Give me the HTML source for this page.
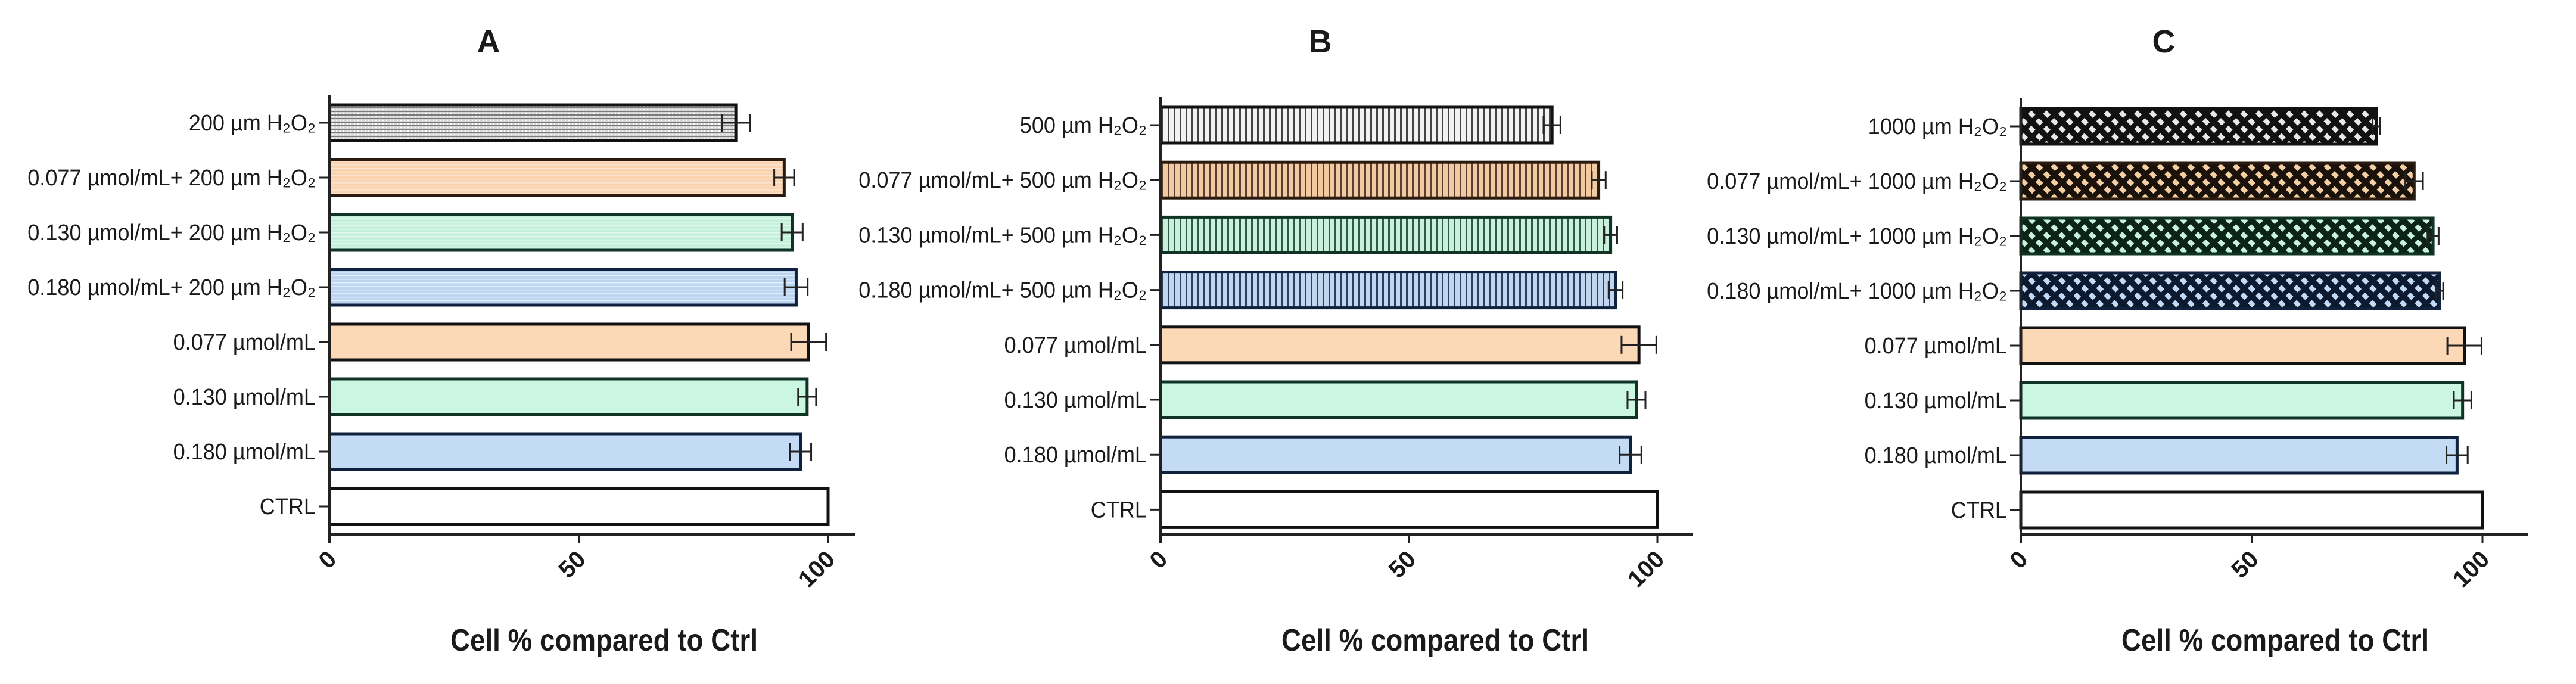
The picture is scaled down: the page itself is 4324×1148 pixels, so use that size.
<!DOCTYPE html>
<html><head><meta charset="utf-8"><style>
html,body{margin:0;padding:0;background:#fff;}
svg{display:block;}
text{font-family:"Liberation Sans",sans-serif;fill:#1a1a1a;}
</style></head><body>
<svg id="fig" width="4324" height="1148" viewBox="0 0 4324 1148" xmlns="http://www.w3.org/2000/svg">
<defs>
<pattern id="patA-grey" width="6" height="6" patternUnits="userSpaceOnUse"><rect width="6" height="6" fill="#d6d6d6"/><rect y="0" width="6" height="2" fill="#7a7a7a"/><rect x="0" y="3" width="2" height="2" fill="#ffffff"/></pattern>
<pattern id="patA-orange" width="6" height="6" patternUnits="userSpaceOnUse"><rect width="6" height="6" fill="#fbd3ae"/><rect y="0" width="6" height="1.5" fill="#f7e6d6"/></pattern>
<pattern id="patA-green" width="6" height="6" patternUnits="userSpaceOnUse"><rect width="6" height="6" fill="#c4f0dc"/><rect y="0" width="6" height="1.5" fill="#e4faf0"/></pattern>
<pattern id="patA-blue" width="6" height="6" patternUnits="userSpaceOnUse"><rect width="6" height="6" fill="#bcd6f2"/><rect y="0" width="6" height="1.5" fill="#e2eefb"/></pattern>
<pattern id="patB-grey" width="10" height="10" patternUnits="userSpaceOnUse"><rect width="10" height="10" fill="#f2f2f2"/><rect x="0" width="3" height="10" fill="#444"/></pattern>
<pattern id="patB-orange" width="10" height="10" patternUnits="userSpaceOnUse"><rect width="10" height="10" fill="#f2c9a0"/><rect x="0" width="3" height="10" fill="#5a4030"/></pattern>
<pattern id="patB-green" width="10" height="10" patternUnits="userSpaceOnUse"><rect width="10" height="10" fill="#c8f0dc"/><rect x="0" width="3" height="10" fill="#2f5a48"/></pattern>
<pattern id="patB-blue" width="10" height="10" patternUnits="userSpaceOnUse"><rect width="10" height="10" fill="#c0d6f0"/><rect x="0" width="3" height="10" fill="#2c3f5e"/></pattern>
<pattern id="patC-grey" width="18" height="18" patternUnits="userSpaceOnUse" patternTransform="rotate(45)"><rect width="18" height="18" fill="#111"/><rect x="4" y="6" width="10" height="8" fill="#e8e8e8"/></pattern>
<pattern id="patC-orange" width="18" height="18" patternUnits="userSpaceOnUse" patternTransform="rotate(45)"><rect width="18" height="18" fill="#1a120a"/><rect x="4" y="6" width="10" height="8" fill="#f4cfa4"/></pattern>
<pattern id="patC-green" width="18" height="18" patternUnits="userSpaceOnUse" patternTransform="rotate(45)"><rect width="18" height="18" fill="#0c2418"/><rect x="4" y="6" width="10" height="8" fill="#c8f2de"/></pattern>
<pattern id="patC-blue" width="18" height="18" patternUnits="userSpaceOnUse" patternTransform="rotate(45)"><rect width="18" height="18" fill="#0c1a30"/><rect x="4" y="6" width="10" height="8" fill="#c4daf4"/></pattern>
</defs>
</svg>
<script>
// Panel data (top to bottom)
const panelTitles = ["A", "B", "C"];
const doses = ["200", "500", "1000"];
const valuesA = [81.5, 91.2, 92.8, 93.6, 96.1, 95.8, 94.5, 100];
const errorsA = [2.8, 2.0, 2.1, 2.3, 3.5, 1.8, 2.1, 0];
const valuesB = [78.8, 88.2, 90.6, 91.6, 96.3, 95.8, 94.6, 100];
const errorsB = [1.7, 1.4, 1.3, 1.4, 3.5, 1.8, 2.2, 0];
const valuesC = [77.0, 85.2, 89.3, 90.7, 96.1, 95.7, 94.5, 100];
const errorsC = [0.8, 1.9, 1.2, 0.8, 3.7, 1.9, 2.3, 0];
const xTicks = [0, 50, 100];
const xTickLabels = ["0", "50", "100"];

const NS = "http://www.w3.org/2000/svg";
const svg = document.getElementById("fig");
function mk(tag, attrs, parent) {
  const e = document.createElementNS(NS, tag);
  for (const k in attrs) e.setAttribute(k, attrs[k]);
  (parent || svg).appendChild(e);
  return e;
}
const panels = [
  {x0: 553, x100: 1390, axEnd: 1436, top: 159, r0: 206, step: 92.0, titleX: 820, xlabX: 1014, vals: valuesA, errs: errorsA, pat: "patA"},
  {x0: 1948, x100: 2782, axEnd: 2842, top: 162, r0: 210, step: 92.2, titleX: 2216, xlabX: 2409, vals: valuesB, errs: errorsB, pat: "patB"},
  {x0: 3392, x100: 4167, axEnd: 4244, top: 164, r0: 212, step: 92.0, titleX: 3632, xlabX: 3819, vals: valuesC, errs: errorsC, pat: "patC"}
];
const fills = ["grey", "orange", "green", "blue"];
const plainFills = ["#fcd9b6", "#cbf6e2", "#c4dbf5", "#ffffff"];
const strokes = ["#111", "#2a1a0e", "#0f3324", "#10213d", "#111", "#0f3324", "#10213d", "#111"];
const axisY = 897, barH = 60;

panels.forEach((p, pi) => {
  const g = mk("g", {});
  
  
  const xs = v => p.x0 + (p.x100 - p.x0) * v / 100;
  const t = mk("text", {x: p.titleX, y: 88, "font-size": 54, "font-weight": "bold", "text-anchor": "middle"}, g);
  t.textContent = panelTitles[pi];
  
  
  const d = doses[pi];
  const labels = [d + " µm H₂O₂", "0.077 µmol/mL+ " + d + " µm H₂O₂", "0.130 µmol/mL+ " + d + " µm H₂O₂", "0.180 µmol/mL+ " + d + " µm H₂O₂", "0.077 µmol/mL", "0.130 µmol/mL", "0.180 µmol/mL", "CTRL"];
  p.vals.forEach((v, i) => {
    const cy = p.r0 + i * p.step;
    let fill;
    if (i < 4) fill = "url(#" + p.pat + "-" + fills[i] + ")";
    else fill = plainFills[i - 4];
    const r = mk("rect", {x: p.x0, y: cy - barH / 2, width: xs(v) - p.x0, height: barH, fill: fill, stroke: strokes[i], "stroke-width": 5}, g);
    
    
    const e = p.errs[i];
    if (e > 0) {
      const eg = mk("g", {stroke: "#222", "stroke-width": 3}, g);
      
      
      mk("line", {x1: xs(v - e), x2: xs(v + e), y1: cy, y2: cy}, eg);
      mk("line", {x1: xs(v - e), x2: xs(v - e), y1: cy - 15, y2: cy + 15}, eg);
      mk("line", {x1: xs(v + e), x2: xs(v + e), y1: cy - 15, y2: cy + 15}, eg);
    }
    mk("line", {x1: p.x0 - 18, x2: p.x0, y1: cy, y2: cy, stroke: "#222", "stroke-width": 3}, g);
    const lx = p.x0 - 23;
    const lt = mk("text", {x: 0, y: 0, "font-size": 38, "text-anchor": "end", transform: "translate(" + lx + "," + (cy + 13) + ") scale(0.95,1)"}, g);
    lt.textContent = labels[i];
    
    
  });
  mk("line", {x1: p.x0, x2: p.x0, y1: p.top, y2: axisY + 14, stroke: "#222", "stroke-width": 4}, g);
  mk("line", {x1: p.x0, x2: p.axEnd, y1: axisY, y2: axisY, stroke: "#222", "stroke-width": 4}, g);
  xTicks.forEach((tv, ti) => {
    const tx = xs(tv);
    mk("line", {x1: tx, x2: tx, y1: axisY, y2: axisY + 14, stroke: "#222", "stroke-width": 3}, g);
    const tl = mk("text", {x: 0, y: 0, "font-size": 40, "font-weight": "bold", "text-anchor": "end", transform: "translate(" + (tx + 14) + "," + (axisY + 44) + ") rotate(-45)"}, g);
    tl.textContent = xTickLabels[ti];
    
    
  });
  const xl = mk("text", {x: 0, y: 0, "font-size": 52, "font-weight": "bold", "text-anchor": "middle", transform: "translate(" + p.xlabX + ",1092) scale(0.88,1)"}, g);
  xl.textContent = "Cell % compared to Ctrl";
  
  
});
</script>
</body></html>
